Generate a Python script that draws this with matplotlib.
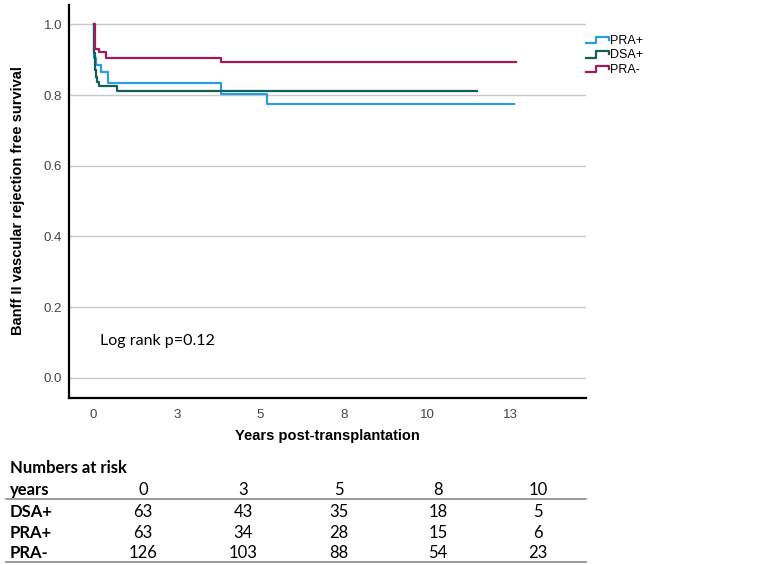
import matplotlib
matplotlib.use("Agg")
import matplotlib.pyplot as plt
from matplotlib.legend_handler import HandlerLine2D
from matplotlib.lines import Line2D

# Kaplan-Meier step data (years, survival after event)
pra_pos_t = [0, 0.02, 0.06, 0.21, 0.44, 3.82, 5.19]
pra_pos_s = [1.0, 0.905, 0.885, 0.866, 0.833, 0.804, 0.774]
pra_pos_end = 12.6

dsa_pos_t = [0, 0.02, 0.05, 0.08, 0.11, 0.16, 0.70]
dsa_pos_s = [1.0, 0.92, 0.87, 0.85, 0.838, 0.826, 0.811]
dsa_pos_end = 11.49

pra_neg_t = [0, 0.03, 0.16, 0.36, 3.82]
pra_neg_s = [1.0, 0.93, 0.922, 0.904, 0.895]
pra_neg_end = 12.66

x_tick_pos = [0, 2.5, 5, 7.5, 10, 12.5]
x_tick_lab = ["0", "3", "5", "8", "10", "13"]
y_ticks = [0.0, 0.2, 0.4, 0.6, 0.8, 1.0]

# numbers at risk table
risk_years = ["0", "3", "5", "8", "10"]
risk_groups = ["DSA+", "PRA+", "PRA-"]
risk_dsa_pos = [63, 43, 35, 18, 5]
risk_pra_pos = [63, 34, 28, 15, 6]
risk_pra_neg = [126, 103, 88, 54, 23]

C_BLUE = "#2a9de0"
C_TEAL = "#125f57"
C_RED = "#a3195b"


class StepHandler(HandlerLine2D):
    """Legend key drawn as a little step, like SPSS does."""
    def create_artists(self, legend, orig_handle, xdescent, ydescent,
                       width, height, fontsize, trans):
        x0, x1 = -xdescent, -xdescent + width
        xm = x0 + width * 0.45
        lo, hi = -ydescent + height * 0.1, -ydescent + height * 0.85
        ln = Line2D([x0, xm, xm, x1, x1], [lo, lo, hi, hi, hi * 0.6],
                    color=orig_handle.get_color(),
                    linewidth=orig_handle.get_linewidth(), transform=trans)
        return [ln]


fig = plt.figure(figsize=(7.79, 5.65), dpi=100)
ax = fig.add_axes([69 / 779, 1 - 398 / 565, (586 - 69) / 779, (398 - 5) / 565])

lines = []
for t, s, end, col, lab in [(pra_pos_t, pra_pos_s, pra_pos_end, C_BLUE, "PRA+"),
                            (dsa_pos_t, dsa_pos_s, dsa_pos_end, C_TEAL, "DSA+"),
                            (pra_neg_t, pra_neg_s, pra_neg_end, C_RED, "PRA-")]:
    ln, = ax.step(t + [end], s + [s[-1]], where="post", color=col, lw=1.6, label=lab)
    lines.append(ln)

ax.set_xlim(-0.74, 14.76)
ax.set_ylim(-0.057, 1.055)
ax.set_xticks(x_tick_pos)
ax.set_xticklabels(x_tick_lab)
ax.set_yticks(y_ticks)
ax.set_yticklabels([f"{v:.1f}" for v in y_ticks])
ax.tick_params(length=0, labelsize=9.5, labelcolor="#444444")
ax.tick_params(axis="x", pad=8)
ax.tick_params(axis="y", pad=5)
for lab in ax.get_xticklabels() + ax.get_yticklabels():
    lab.set_family("Liberation Sans")
ax.grid(axis="y", color="#c8c8c8", lw=1)
ax.set_axisbelow(True)
for side in ["top", "right"]:
    ax.spines[side].set_visible(False)
for side in ["left", "bottom"]:
    ax.spines[side].set_linewidth(1.6)
    ax.spines[side].set_color("black")

ax.set_xlabel("Years post-transplantation", fontsize=10.5, fontweight="bold",
              family="Liberation Sans", labelpad=6)
fig.text(18 / 779, 1 - 201 / 565, "Banff II vascular rejection free survival",
         rotation=90, ha="center", va="center", fontsize=10.5, fontweight="bold",
         family="Liberation Sans")

ax.text(100, 565 - 341, "Log rank p=0.12", transform=None, fontsize=11.5,
        family="Lato", va="center")

leg = fig.legend(handles=lines, loc="upper left", bbox_to_anchor=(586 / 779, 1 - 35 / 565),
                 frameon=False, handlelength=1.8, handletextpad=0.1,
                 labelspacing=0.2, borderpad=0, borderaxespad=0,
                 handler_map={Line2D: StepHandler()},
                 prop={"family": "Liberation Sans", "size": 9})

# numbers at risk table, drawn in figure pixel coordinates
def fy(y):
    return 1 - y / 565

col_x = [143, 243, 339, 438, 538]
tf = dict(family="Lato", fontsize=12, va="center", transform=fig.transFigure)
fig.text(10 / 779, fy(468), "Numbers at risk", fontweight="bold", ha="left", **tf)
fig.text(10 / 779, fy(490), "years", fontweight="bold", ha="left", **tf)
for cx, yr in zip(col_x, risk_years):
    fig.text(cx / 779, fy(490), yr, ha="center", **tf)
row_y = [512, 533, 553]
for ry, grp, vals in zip(row_y, risk_groups, [risk_dsa_pos, risk_pra_pos, risk_pra_neg]):
    fig.text(10 / 779, fy(ry), grp, fontweight="bold", ha="left", **tf)
    for cx, v in zip(col_x, vals):
        fig.text(cx / 779, fy(ry), str(v), ha="center", **tf)
for ly in [499, 562]:
    fig.add_artist(Line2D([6 / 779, 586 / 779], [fy(ly), fy(ly)], color="#888888",
                          lw=1.2, transform=fig.transFigure))

fig.savefig("out.png", dpi=100, facecolor="white")
